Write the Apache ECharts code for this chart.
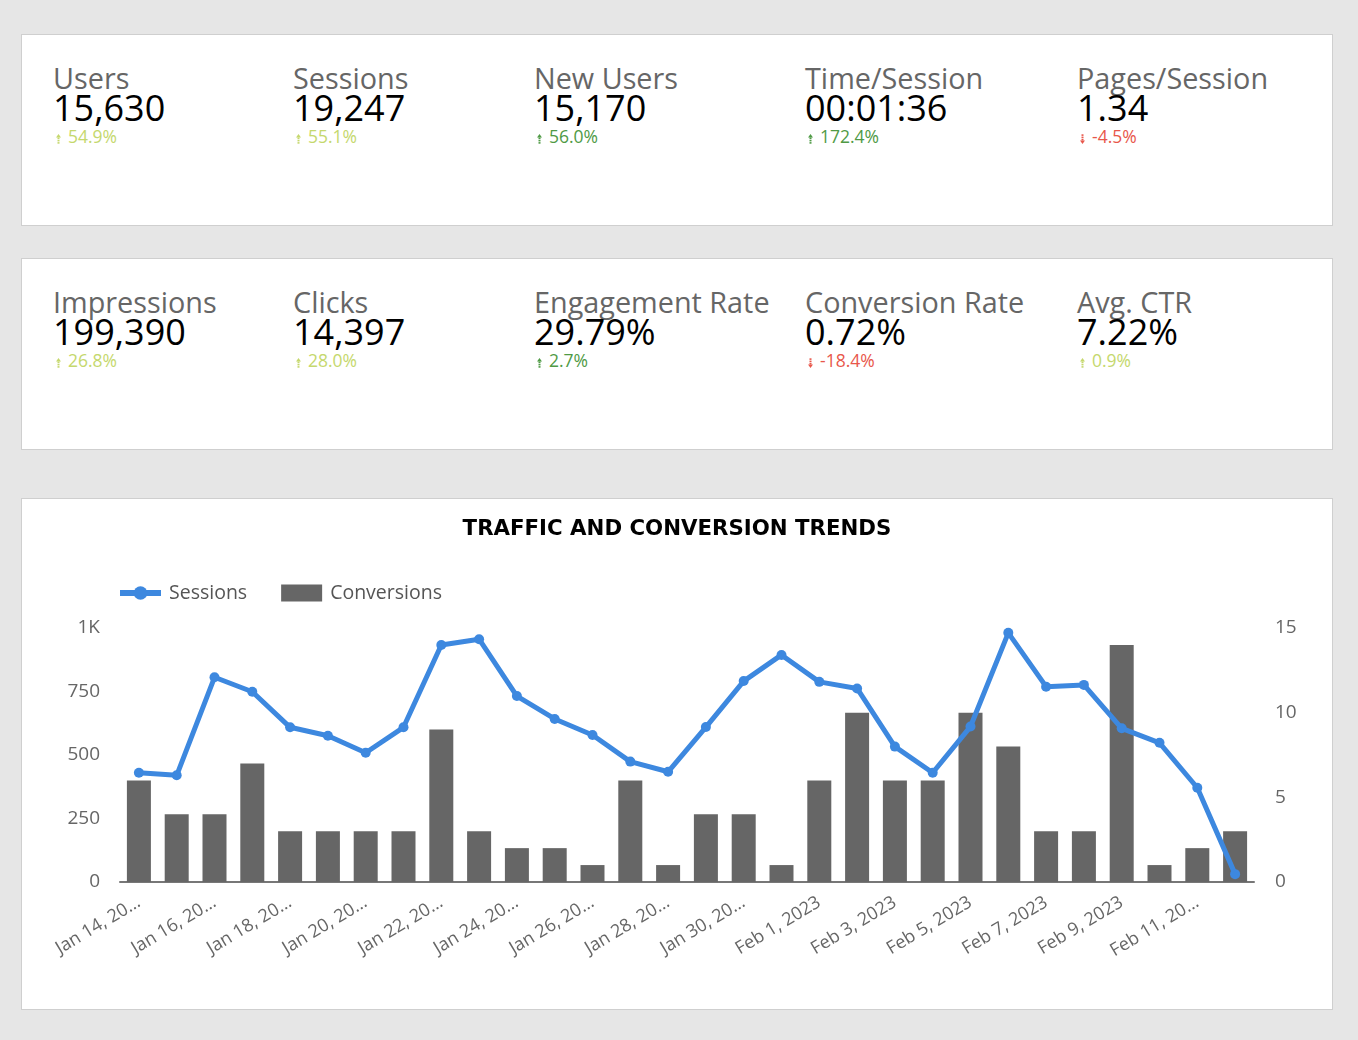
<!DOCTYPE html>
<html>
<head>
<meta charset="utf-8">
<script src="https://cdn.jsdelivr.net/npm/echarts@6/dist/echarts.min.js"></script>
<style>
  html, body { margin:0; padding:0; background:#e6e6e6; width:1358px; height:1040px; overflow:hidden; font-family:"Open Sans", sans-serif; }
  .card { position:absolute; left:21px; width:1310px; background:#fff; border:1px solid #cfcfcf; }
  .kpi { position:absolute; white-space:nowrap; }
  .kpi .lab { position:absolute; top:29px; left:0; font-size:28.8px; line-height:1; color:#666; font-weight:400; }
  .kpi .val { position:absolute; top:55px; left:0; font-size:36px; line-height:1; color:#000; font-weight:400; }
  .kpi .dlt { position:absolute; top:93px; left:3px; font-size:17.5px; line-height:1; }
  .kpi .arr { display:inline-block; width:5px; height:10px; margin-right:7px; vertical-align:-1px; }
  #chart { position:absolute; left:22px; top:499px; width:1310px; height:510px; }
</style>
</head>
<body>
<div class="card" id="row1" style="top:34px;height:190px;"></div>
<div class="card" id="row2" style="top:258px;height:190px;"></div>
<div class="card" style="top:498px;height:510px;"></div>
<div id="chart"></div>
<script>
// KPI data
const kpiRow1Labels = ["Users", "Sessions", "New Users", "Time/Session", "Pages/Session"];
const kpiRow1Values = ["15,630", "19,247", "15,170", "00:01:36", "1.34"];
const kpiRow1Deltas = ["54.9%", "55.1%", "56.0%", "172.4%", "-4.5%"];
const kpiRow1Tone   = ["light", "light", "dark", "dark", "down"];

const kpiRow2Labels = ["Impressions", "Clicks", "Engagement Rate", "Conversion Rate", "Avg. CTR"];
const kpiRow2Values = ["199,390", "14,397", "29.79%", "0.72%", "7.22%"];
const kpiRow2Deltas = ["26.8%", "28.0%", "2.7%", "-18.4%", "0.9%"];
const kpiRow2Tone   = ["light", "light", "dark", "down", "light"];

// Chart data
const dates = ["Jan 14, 2023","Jan 15, 2023","Jan 16, 2023","Jan 17, 2023","Jan 18, 2023","Jan 19, 2023","Jan 20, 2023","Jan 21, 2023","Jan 22, 2023","Jan 23, 2023","Jan 24, 2023","Jan 25, 2023","Jan 26, 2023","Jan 27, 2023","Jan 28, 2023","Jan 29, 2023","Jan 30, 2023","Jan 31, 2023","Feb 1, 2023","Feb 2, 2023","Feb 3, 2023","Feb 4, 2023","Feb 5, 2023","Feb 6, 2023","Feb 7, 2023","Feb 8, 2023","Feb 9, 2023","Feb 10, 2023","Feb 11, 2023","Feb 12, 2023"];
const sessions = [430,420,806,749,609,576,509,609,933,956,732,642,579,474,434,610,791,894,788,762,533,430,612,981,769,776,605,548,371,31];
const conversions = [6,4,4,7,3,3,3,3,9,3,2,2,1,6,1,4,4,1,6,10,6,6,10,8,3,3,14,1,2,3];
const leftTicks = [0, 250, 500, 750, 1000];
const rightTicks = [0, 5, 10, 15];

const kpiX = [31, 271, 512, 783, 1055];
const toneColor = { light: "#c5d86d", dark: "#4f9a45", down: "#e8574b" };

function arrowSvg(up, color) {
  const p = up
    ? '<polygon points="2.5,0 5,3.5 0,3.5" fill="' + color + '"/><rect x="1.5" y="3.5" width="2" height="1.6" fill="' + color + '"/><rect x="1.5" y="5.8" width="2" height="1.6" fill="' + color + '"/><rect x="1.5" y="8.1" width="2" height="1.6" fill="' + color + '"/>'
    : '<rect x="1.5" y="0.3" width="2" height="1.6" fill="' + color + '"/><rect x="1.5" y="2.6" width="2" height="1.6" fill="' + color + '"/><rect x="1.5" y="4.9" width="2" height="1.6" fill="' + color + '"/><polygon points="0,6.5 5,6.5 2.5,10" fill="' + color + '"/>';
  return '<svg class="arr" viewBox="0 0 5 10">' + p + '</svg>';
}

function buildRow(id, labels, values, deltas, tones) {
  const el = document.getElementById(id);
  labels.forEach((l, i) => {
    const d = document.createElement("div");
    d.className = "kpi";
    d.style.left = kpiX[i] + "px";
    const up = tones[i] !== "down";
    const c = toneColor[tones[i]];
    d.innerHTML = '<div class="lab">' + l + '</div><div class="val">' + values[i] +
      '</div><div class="dlt" style="color:' + c + '">' + arrowSvg(up, c) + deltas[i] + '</div>';
    el.appendChild(d);
  });
}
buildRow("row1", kpiRow1Labels, kpiRow1Values, kpiRow1Deltas, kpiRow1Tone);
buildRow("row2", kpiRow2Labels, kpiRow2Values, kpiRow2Deltas, kpiRow2Tone);

const chart = echarts.init(document.getElementById("chart"), null, { renderer: "canvas" });
const fam = "'Open Sans', sans-serif";
chart.setOption({
  backgroundColor: "#ffffff",
  animation: false,
  title: {
    text: "TRAFFIC AND CONVERSION TRENDS",
    left: "center",
    top: 15,
    textStyle: { fontFamily: "'DejaVu Sans', sans-serif", fontWeight: "bold", fontSize: 21.3, color: "#000" }
  },
  legend: {
    left: 90,
    top: 79,
    itemWidth: 41,
    itemHeight: 17,
    itemGap: 34,
    lineStyle: { width: 6 },
    data: [
      { name: "Sessions" },
      { name: "Conversions", icon: "rect" }
    ],
    textStyle: { fontFamily: fam, fontSize: 19.5, color: "#555", padding: [0, 0, 0, 3] }
  },
  grid: { left: 98, right: 78, top: 129, bottom: 127 },
  xAxis: {
    type: "category",
    data: dates,
    boundaryGap: true,
    axisLine: { lineStyle: { color: "#777", width: 2 } },
    axisTick: { show: false },
    axisLabel: {
      interval: 1,
      rotate: 31,
      fontFamily: fam,
      fontSize: 18,
      color: "#666",
      margin: 19,
      formatter: v => v.length > 11 ? v.slice(0, 10) + "…" : v
    }
  },
  yAxis: [
    {
      type: "value",
      min: leftTicks[0],
      max: leftTicks[leftTicks.length - 1],
      interval: leftTicks[1] - leftTicks[0],
      axisLine: { show: false },
      axisTick: { show: false },
      splitLine: { show: false },
      axisLabel: {
        fontFamily: fam, fontSize: 19, color: "#666", margin: 20,
        formatter: v => v >= 1000 ? (v / 1000) + "K" : String(v)
      }
    },
    {
      type: "value",
      min: rightTicks[0],
      max: rightTicks[rightTicks.length - 1],
      interval: rightTicks[1] - rightTicks[0],
      axisLine: { show: false },
      axisTick: { show: false },
      splitLine: { show: false },
      axisLabel: { fontFamily: fam, fontSize: 19, color: "#666", margin: 21 }
    }
  ],
  series: [
    {
      name: "Conversions",
      type: "bar",
      yAxisIndex: 1,
      data: conversions,
      barWidth: 24,
      itemStyle: { color: "#666666" },
      z: 2
    },
    {
      name: "Sessions",
      type: "line",
      yAxisIndex: 0,
      data: sessions,
      symbol: "circle",
      symbolSize: 10,
      showAllSymbol: true,
      lineStyle: { color: "#3d88df", width: 5 },
      itemStyle: { color: "#3d88df" },
      z: 5
    }
  ]
});
</script>
</body>
</html>
